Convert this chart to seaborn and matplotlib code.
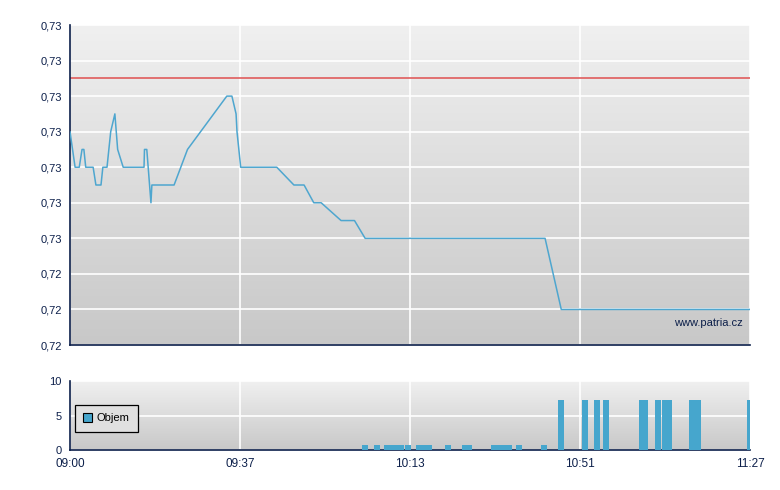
import numpy as np
import pandas as pd
import matplotlib
matplotlib.use("Agg")
import matplotlib.pyplot as plt
from matplotlib.colors import LinearSegmentedColormap
from matplotlib.patches import Patch
import seaborn as sns

# price line (minutes after 09:00, price)
price_min = [0, 1.1, 2.0, 2.6, 3.0, 3.4, 5.0, 5.6, 6.7, 7.1, 8.0, 8.8, 9.7, 10.3,
             11.5, 16.0, 16.1, 16.6, 17.5, 17.7, 22.5, 25.4, 33.9, 35.0, 35.9,
             36.1, 36.9, 44.7, 48.4, 50.6, 52.7, 54.3, 58.6, 61.5, 63.8, 102.7,
             106.2, 147.0]
price_val = [0.728, 0.727, 0.727, 0.7275, 0.7275, 0.727, 0.727, 0.7265, 0.7265,
             0.727, 0.727, 0.728, 0.7285, 0.7275, 0.727, 0.727, 0.7275, 0.7275,
             0.726, 0.7265, 0.7265, 0.7275, 0.729, 0.729, 0.7285, 0.728, 0.727,
             0.727, 0.7265, 0.7265, 0.726, 0.726, 0.7255, 0.7255, 0.725, 0.725,
             0.723, 0.723]
prev_close = 0.7295

# volume bars (minutes after 09:00, volume)
vol_min = [63.1, 65.7, 67.9, 69.1, 70.3, 70.9, 72.4, 74.8, 76.0, 77.0, 81.1, 84.7,
           85.6, 91.0, 92.1, 93.1, 94.3, 96.4, 101.8, 105.5, 110.7, 113.3, 115.2,
           123.0, 123.7, 126.5, 128.0, 128.8, 133.8, 135.0, 146.3]
vol_val = [0.7] * 19 + [7.3] * 12

price_ticks = [0.722, 0.723, 0.724, 0.725, 0.726, 0.727, 0.728, 0.729, 0.730, 0.731]
price_labels = ["0,72", "0,72", "0,72", "0,73", "0,73", "0,73", "0,73", "0,73", "0,73", "0,73"]
vol_ticks = [0, 5, 10]
time_ticks = [0, 36.75, 73.5, 110.25, 147]
time_labels = ["09:00", "09:37", "10:13", "10:51", "11:27"]

price_df = pd.DataFrame({"t": price_min, "price": price_val})

sns.set_style("white")
plt.rcParams["font.family"] = ["Liberation Sans", "DejaVu Sans"]

navy = "#0c1f4a"
grad = LinearSegmentedColormap.from_list("bg", ["#c8c8c8", "#f0f0f0"])

fig = plt.figure(figsize=(7.8, 4.9), dpi=100)
ax1 = fig.add_axes([70 / 780, 1 - 345 / 490, 680 / 780, 320 / 490])
ax2 = fig.add_axes([70 / 780, 1 - 450 / 490, 680 / 780, 69 / 490])


def style_axes(ax):
    ax.imshow(np.linspace(0, 1, 256).reshape(-1, 1), cmap=grad, origin="lower",
              extent=[0, 1, 0, 1], transform=ax.transAxes, aspect="auto", zorder=-1)
    ax.set_axisbelow(True)
    ax.grid(True, color="white", lw=1.2)
    for s in ["top", "right"]:
        ax.spines[s].set_visible(False)
    for s in ["left", "bottom"]:
        ax.spines[s].set_color(navy)
        ax.spines[s].set_linewidth(1.2)
    ax.tick_params(colors=navy, labelsize=8, length=4, width=1, direction="out",
                   pad=2, labelcolor=navy)
    ax.set_xlabel("")
    ax.set_ylabel("")


style_axes(ax1)
sns.lineplot(data=price_df, x="t", y="price", ax=ax1, color="#4ea6cf", lw=1.1,
             estimator=None, sort=False, zorder=3)
ax1.axhline(prev_close, color="#e05c5c", lw=1.2, zorder=2)
ax1.set_xlim(0, 147)
ax1.set_ylim(0.722, 0.731)
ax1.set_yticks(price_ticks)
ax1.set_yticklabels(price_labels)
ax1.set_xticks(time_ticks)
ax1.set_xticklabels([])
ax1.set_xlabel("")
ax1.set_ylabel("")
ax1.text(0.99, 0.069, "www.patria.cz", transform=ax1.transAxes, ha="right",
         va="center", fontsize=8, color=navy)

style_axes(ax2)
ax2.bar(vol_min, vol_val, width=1.3, align="edge", color="#46a6cd", lw=0, zorder=3)
ax2.set_xlim(0, 147)
ax2.set_ylim(0, 10)
ax2.set_yticks(vol_ticks)
ax2.set_xticks(time_ticks)
ax2.set_xticklabels(time_labels)
for lbl in ax2.get_xticklabels():
    lbl.set_family(["Liberation Sans Narrow", "Liberation Sans"])
    lbl.set_fontsize(8.5)
leg = ax2.legend(handles=[Patch(facecolor="#46a6cd", edgecolor="black", lw=0.8, label="Objem")],
                 loc="upper left", bbox_to_anchor=(0.0074, 0.652), fancybox=False,
                 framealpha=1, edgecolor="black", facecolor="#e0e0e0", fontsize=8,
                 handlelength=0.8, handleheight=0.8, handletextpad=0.4,
                 borderpad=0.75, borderaxespad=0)
leg.get_frame().set_linewidth(0.9)
for t in leg.get_texts():
    t.set_color("black")

fig.savefig("out.png", dpi=100)
